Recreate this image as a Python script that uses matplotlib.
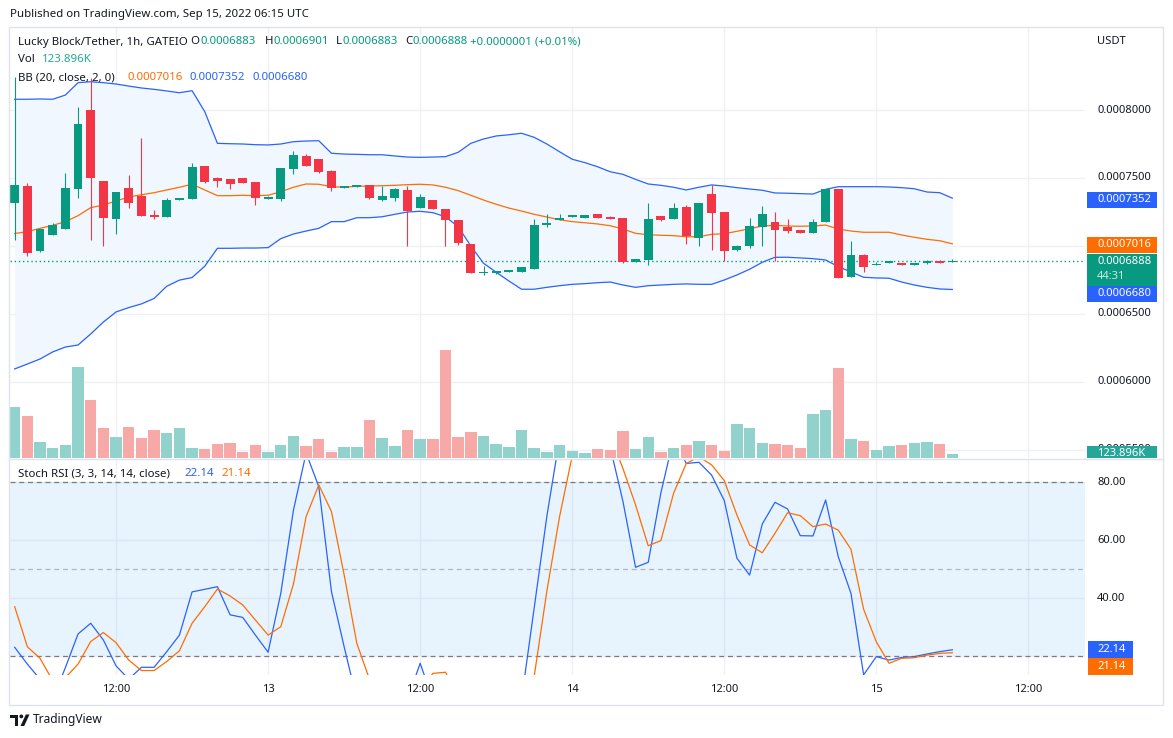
import numpy as np
import matplotlib
matplotlib.use("Agg")
import matplotlib.pyplot as plt
import matplotlib.transforms as mtransforms
from matplotlib.patches import Rectangle, Polygon, Circle
from matplotlib.lines import Line2D
from matplotlib.font_manager import FontProperties

# ---------------- data (prices in units of 1e-7 USDT) ----------------
UNIT = 1e-7
open_ = [7314,7441,6963,7083,7127,7421,8000,7478,7201,7426,7370,7230,7213,7338,7348,7588,7502,7493,7500,7471,
         7348,7348,7568,7662,7640,7551,7429,7436,7449,7338,7355,7412,7279,7338,7272,7191,7015,6804,6801,6812,
         6809,6831,7154,7193,7215,7208,7235,7213,7206,6882,6899,7218,7199,7287,7061,7382,7250,6973,7002,7140,
         7176,7140,7118,7098,7179,7419,6774,6934,6863,6877,6875,6863,6873,6890,6883]
high_ = [8245,7461,7127,7167,7539,8024,8233,7480,7400,7522,7794,7265,7353,7356,7610,7590,7505,7495,7502,7473,
         7368,7576,7699,7676,7642,7559,7443,7451,7451,7441,7429,7441,7382,7340,7274,7193,7017,6853,6818,6816,
         6848,7199,7235,7235,7228,7228,7237,7218,7208,6906,7316,7220,7316,7301,7318,7449,7252,7007,7206,7294,
         7250,7199,7120,7199,7421,7421,7037,6941,6885,6889,6877,6877,6897,6897,6901]
low_ = [7044,6929,6958,7080,7125,7355,7044,7002,7088,7282,7220,7199,7210,7335,7345,7465,7436,7417,7463,7304,
        7346,7333,7532,7588,7535,7407,7427,7434,7346,7331,7333,7000,7277,7270,7000,7007,6799,6787,6794,6810,
        6807,6829,7142,7191,7213,7206,7206,7199,6873,6880,6863,7186,7197,7017,7002,6973,6892,6965,6988,7002,
        6892,7098,7096,7096,7177,6765,6772,6811,6861,6875,6861,6861,6871,6875,6883]
close_ = [7449,6946,7123,7154,7426,7897,7502,7208,7397,7318,7223,7213,7338,7353,7581,7473,7480,7456,7465,7355,
          7363,7574,7669,7590,7546,7429,7441,7449,7355,7368,7419,7260,7360,7272,7191,7022,6801,6809,6816,6814,
          6846,7154,7169,7206,7226,7226,7208,7201,6882,6904,7199,7193,7279,7076,7316,7245,6965,7000,7147,7235,
          7120,7113,7098,7176,7419,6767,6934,6848,6868,6887,6863,6875,6890,6877,6888]
bb_upper = [8079,8079,8081,8079,8110,8201,8208,8201,8191,8176,8162,8152,8140,8127,8142,7988,7755,7752,7750,7745,
            7743,7750,7767,7772,7774,7682,7676,7674,7671,7671,7662,7654,7652,7654,7657,7689,7755,7787,7809,7818,
            7829,7799,7750,7693,7638,7613,7583,7546,7527,7490,7456,7446,7432,7412,7432,7449,7441,7429,7419,7410,
            7390,7388,7385,7382,7417,7436,7436,7436,7436,7434,7429,7421,7397,7392,7352]
bb_basis = [7092,7105,7130,7152,7179,7223,7282,7301,7331,7360,7377,7392,7412,7432,7454,7412,7370,7370,7373,7370,
            7373,7399,7432,7456,7454,7436,7432,7439,7441,7443,7446,7451,7454,7449,7432,7407,7373,7338,7307,7279,
            7257,7233,7213,7193,7179,7171,7162,7149,7125,7093,7083,7079,7076,7068,7068,7086,7090,7108,7127,7147,
            7152,7147,7145,7147,7154,7125,7110,7101,7101,7101,7081,7064,7049,7039,7016]
bb_lower = [6096,6132,6169,6221,6257,6272,6353,6441,6515,6547,6574,6614,6704,6749,6768,6851,6983,6983,6985,6985,
            6988,7054,7088,7110,7130,7179,7179,7208,7208,7215,7233,7250,7255,7245,7215,7142,7000,6873,6807,6743,
            6682,6682,6696,6708,6718,6723,6730,6735,6713,6696,6708,6713,6718,6721,6718,6718,6750,6787,6829,6880,
            6917,6917,6912,6907,6897,6848,6809,6770,6765,6763,6735,6713,6696,6684,6680]
volume_k = [1709,1397,536,335,425,3049,1933,1005,704,1039,670,938,838,1005,335,302,469,503,201,436,
            201,436,737,402,637,201,369,369,1273,670,402,938,637,637,3608,704,871,737,469,358,
            928,325,191,425,224,157,291,258,894,291,693,191,325,425,559,425,224,1129,995,492,
            459,425,325,1464,1598,3005,626,559,258,392,425,492,526,459,123.896]
stoch_k = [23.0,17.2,12.0,5.0,16.0,27.6,31.3,25.5,16.6,12.0,16.1,16.1,21.5,27.2,42.1,43.0,43.9,34.2,33.3,27.2,
           21.3,41.6,70.3,90.0,78.4,42.2,23.2,5.0,2.0,0.0,0.0,5.0,17.5,5.0,0.0,0.0,0.0,0.0,0.0,0.0,
           5.0,36.6,68.2,95.0,100.0,100.0,98.0,92.0,73.4,50.6,52.3,76.3,95.0,86.4,86.8,82.4,73.6,53.7,47.9,65.5,
           73.0,70.7,61.5,61.4,73.8,54.2,41.6,13.5,19.8,18.6,19.5,19.8,20.7,21.5,22.14]
stoch_d = [37.0,23.2,19.2,11.5,12.5,17.2,25.0,28.1,24.6,18.6,15.0,15.0,18.1,21.8,31.3,37.0,43.1,40.7,37.6,32.4,
           27.2,30.1,44.8,68.1,79.0,69.8,48.0,24.4,12.0,3.0,2.0,3.0,8.0,14.0,14.4,6.0,2.0,0.0,0.0,0.0,
           2.0,13.0,42.4,68.0,89.0,98.0,99.0,96.0,84.7,72.1,58.0,59.8,76.1,86.4,88.7,85.9,80.5,68.6,58.3,55.6,
           62.3,69.4,68.4,64.6,65.5,63.4,56.8,36.1,24.9,17.5,19.2,19.4,20.3,20.9,21.14]

# hours since Sep 12 04:00
time_tick_pos = [8, 20, 32, 44, 56, 68, 80]
time_tick_labels = ["12:00", "13", "12:00", "14", "12:00", "15", "12:00"]
day_labels = {"13", "14", "15"}
price_grid = [0.00080, 0.00075, 0.00070, 0.00065, 0.00060, 0.00055]
price_labels = {0.00080: "0.0008000", 0.00075: "0.0007500", 0.00065: "0.0006500",
                0.00060: "0.0006000"}
hidden_price_label = (0.00055, "0.0005500")
stoch_grid = [80, 60, 40, 20]
stoch_labels = {80: "80.00", 60: "60.00", 40: "40.00"}
last_price = 0.0006888

o = np.array(open_) * UNIT
h = np.array(high_) * UNIT
l = np.array(low_) * UNIT
c = np.array(close_) * UNIT
up_ = np.array(bb_upper) * UNIT
mid_ = np.array(bb_basis) * UNIT
lo_ = np.array(bb_lower) * UNIT
x = np.arange(len(c))

# ---------------- figure ----------------
W, H = 1173, 738
fig = plt.figure(figsize=(W / 100, H / 100), dpi=100)
fig.patch.set_facecolor("white")
FONT = ["Noto Sans", "DejaVu Sans"]
plt.rcParams["font.family"] = FONT
renderer = fig.canvas.get_renderer()

DARK = "#131722"
GREEN = "#089981"
RED = "#F23645"
BLUE = "#2962FF"
ORANGE = "#FF6D00"
GRID = "#eef0f4"
BORDER = "#e0e3eb"


def tw(s, size, weight="normal"):
    fp = FontProperties(family=FONT, size=size, weight=weight)
    w, hh, d = renderer.get_text_width_height_descent(s, fp, ismath=False)
    return w


def fit(s, target, weight="normal"):
    return 10.0 * target / tw(s, 10.0, weight)


pix = mtransforms.Affine2D().scale(1.0 / W, -1.0 / H).translate(0, 1) + fig.transFigure


def rect(x0, y0, x1, y1):
    return [x0 / W, 1 - y1 / H, (x1 - x0) / W, (y1 - y0) / H]


def ptext(xp, yp, s, transform=pix, **kw):
    kw.setdefault("va", "center")
    kw.setdefault("ha", "left")
    return fig.text(xp, yp, s, transform=transform, **kw)


def pbox(x0, y0, x1, y1, color, z=5):
    r = Rectangle((x0, y0), x1 - x0, y1 - y0, transform=pix, facecolor=color,
                  edgecolor="none", zorder=z)
    fig.add_artist(r)
    return r


L, R = 10, 1085
MT, MB = 28, 458
ST, SB = 460, 675
XLIM = (-0.37, 84.47)
PLIM = (5441 * UNIT, 8603 * UNIT)
VLIM = (0, 14405)
SLIM = (13.45, 87.59)

ax_grid = fig.add_axes(rect(L, MT, R, MB))
ax_vol = fig.add_axes(rect(L, MT, R, MB))
ax_main = fig.add_axes(rect(L, MT, R, MB))
ax_st = fig.add_axes(rect(L, ST, R, SB))
for a in (ax_grid, ax_vol, ax_main, ax_st):
    a.set_axis_off()
    a.set_xlim(*XLIM)
ax_grid.set_ylim(*PLIM)
ax_main.set_ylim(*PLIM)
ax_vol.set_ylim(*VLIM)
ax_st.set_ylim(*SLIM)

# grid
for t in time_tick_pos:
    ax_grid.axvline(t, color=GRID, lw=1)
    ax_st.axvline(t, color=GRID, lw=1, zorder=0.5)
for p in price_grid:
    ax_grid.axhline(p, color=GRID, lw=1)
for v in stoch_grid:
    ax_st.axhline(v, color=GRID, lw=1, zorder=0.5)

# volume
is_up = c >= o
vol_colors = np.where(is_up, "#92d2cc", "#f7a9a7")
ax_vol.bar(x, volume_k, width=0.9, color=vol_colors, lw=0)

# Bollinger bands
ax_main.fill_between(x, lo_, up_, color="#f1f7fe", lw=0, zorder=1)
ax_main.plot(x, up_, color=BLUE, lw=0.9, zorder=2)
ax_main.plot(x, lo_, color=BLUE, lw=0.9, zorder=2)
ax_main.plot(x, mid_, color=ORANGE, lw=0.9, zorder=2)
ax_main.axhline(last_price, color=GREEN, lw=1.0, ls=(0, (1, 2)), zorder=2.5)

# candles
cc = np.where(is_up, GREEN, RED)
ax_main.vlines(x, l, h, colors=cc, lw=0.8, zorder=3)
body_bottom = np.minimum(o, c)
body_h = np.maximum(np.abs(c - o), 8 * UNIT)
ax_main.bar(x, body_h, bottom=body_bottom, width=0.7, color=cc, lw=0, zorder=4)

# stochastic RSI
ax_st.axhspan(20, 80, color=(33 / 255, 150 / 255, 243 / 255, 0.1), lw=0, zorder=1)
ax_st.axhline(80, color="#787B86", lw=0.9, ls=(0, (4, 3)), zorder=2)
ax_st.axhline(50, color=(120 / 255, 123 / 255, 134 / 255, 0.5), lw=0.9, ls=(0, (4, 3)), zorder=2)
ax_st.axhline(20, color="#787B86", lw=0.9, ls=(0, (4, 3)), zorder=2)
ax_st.plot(x, stoch_k, color=BLUE, lw=0.9, zorder=3)
ax_st.plot(x, stoch_d, color=ORANGE, lw=0.9, zorder=4)

# frame and separators
fig.add_artist(Rectangle((9, 27), 1163 - 9, 705 - 27, transform=pix, fill=False,
                         edgecolor=BORDER, lw=1))
fig.add_artist(Line2D([9, 1163], [459, 459], transform=pix, color=BORDER, lw=1))

# ---------------- texts ----------------
S_pub = fit("Published on TradingView.com, Sep 15, 2022 06:15 UTC", 297)
S_leg = fit("Lucky Block/Tether, 1h, GATEIO", 169)
S_ax = fit("0.0008000", 54)

ptext(10, 15, "Published on TradingView.com, Sep 15, 2022 06:15 UTC", color=DARK, fontsize=S_pub)

# legend line 1
y1 = 42
ptext(18, y1, "Lucky Block/Tether, 1h, GATEIO", color=DARK, fontsize=S_leg)
for letter, lx, val in [("O", 190.6, "0.0006883"), ("H", 265, "0.0006901"),
                        ("L", 336, "0.0006883"), ("C", 405, "0.0006888")]:
    ptext(lx, y1, letter, color=DARK, fontsize=S_leg)
    ptext(lx + tw(letter, S_leg) + 0.5, y1, val, color=GREEN, fontsize=S_leg)
ptext(470, y1, "+0.0000001 (+0.01%)", color=GREEN, fontsize=S_leg)
# legend line 2
ptext(18, 60, "Vol", color=DARK, fontsize=S_leg)
ptext(42, 60, "123.896K", color="#22ab94", fontsize=S_leg)
# legend line 3
ptext(18, 78, "BB (20, close, 2, 0)", color=DARK, fontsize=S_leg)
ptext(127.4, 78, "0.0007016", color=ORANGE, fontsize=S_leg)
ptext(190, 78, "0.0007352", color=BLUE, fontsize=S_leg)
ptext(252.6, 78, "0.0006680", color=BLUE, fontsize=S_leg)
# stoch legend
ptext(18.4, 474, "Stoch RSI (3, 3, 14, 14, close)", color=DARK, fontsize=S_leg)
ptext(184.5, 474, "22.14", color=BLUE, fontsize=S_leg)
ptext(221, 474, "21.14", color=ORANGE, fontsize=S_leg)

# right price scale
ptext(1097, 41, "USDT", color=DARK, fontsize=S_ax)
tr_price = mtransforms.blended_transform_factory(pix, ax_main.transData)
for p, lab in price_labels.items():
    ptext(1097, p, lab, transform=tr_price, color=DARK, fontsize=S_ax)
# label mostly hidden behind the volume box: only its top edge shows
clip_top = Rectangle((1080, 28), 90, 446 - 28, transform=pix, visible=False)
fig.add_artist(clip_top)
ht = ptext(1097, hidden_price_label[0], hidden_price_label[1], transform=tr_price,
           color=DARK, fontsize=S_ax)
ht.set_clip_path(clip_top)
tr_st = mtransforms.blended_transform_factory(pix, ax_st.transData)
for v, lab in stoch_labels.items():
    ptext(1097, v, lab, transform=tr_st, color=DARK, fontsize=S_ax)

# value boxes (price scale)
pbox(1087, 191.5, 1157, 207.5, BLUE)
ptext(1097, 199.5, "0.0007352", color="white", fontsize=S_ax, weight="bold", zorder=6)
pbox(1087, 236.5, 1157, 252.5, ORANGE)
ptext(1097, 244.5, "0.0007016", color="white", fontsize=S_ax, weight="bold", zorder=6)
pbox(1087, 253.5, 1157, 285.5, GREEN)
ptext(1097, 261.5, "0.0006888", color="white", fontsize=S_ax, weight="bold", zorder=6)
ptext(1097, 276.5, "44:31", color="#c9e9e3", fontsize=S_ax, zorder=6)
pbox(1087, 285.5, 1157, 301.5, BLUE)
ptext(1097, 293.5, "0.0006680", color="white", fontsize=S_ax, weight="bold", zorder=6)
clip_r = Rectangle((1080, 28), 90, 430, transform=pix, visible=False)
fig.add_artist(clip_r)
vb = pbox(1087, 446, 1157, 462, "#26a69a")
vb.set_clip_path(clip_r)
vt = ptext(1097, 453.5, "123.896K", color="white", fontsize=S_ax, weight="bold", zorder=6)
vt.set_clip_path(clip_r)

# stoch boxes
pbox(1088, 641, 1133, 657.5, BLUE)
ptext(1097, 649.3, "22.14", color="white", fontsize=S_ax, weight="bold", zorder=6)
pbox(1088, 658.3, 1133, 674.7, ORANGE)
ptext(1097, 666.5, "21.14", color="white", fontsize=S_ax, weight="bold", zorder=6)

# time axis
tr_time = mtransforms.blended_transform_factory(ax_st.transData, pix)
for t, lab in zip(time_tick_pos, time_tick_labels):
    ptext(t, 689, lab, transform=tr_time, ha="center", color=DARK, fontsize=S_ax,
          weight="bold" if lab in day_labels else "normal")

# TradingView logo
logo = [Polygon([(10, 714.5), (18, 714.5), (18, 726), (14.5, 726), (14.5, 718), (10, 718)], closed=True),
        Polygon([(20.5, 726), (24.2, 726), (29.5, 714.5), (25.8, 714.5)], closed=True)]
for pg in logo:
    pg.set_transform(pix)
    pg.set_facecolor(DARK)
    pg.set_edgecolor("none")
    fig.add_artist(pg)
dot = Circle((21.3, 716.4), 1.9, transform=pix, facecolor=DARK, edgecolor="none")
fig.add_artist(dot)
ptext(33, 720, "TradingView", color=DARK, fontsize=fit("TradingView", 70, "bold"), weight="bold")

fig.savefig("out.png", dpi=100, facecolor="white")
